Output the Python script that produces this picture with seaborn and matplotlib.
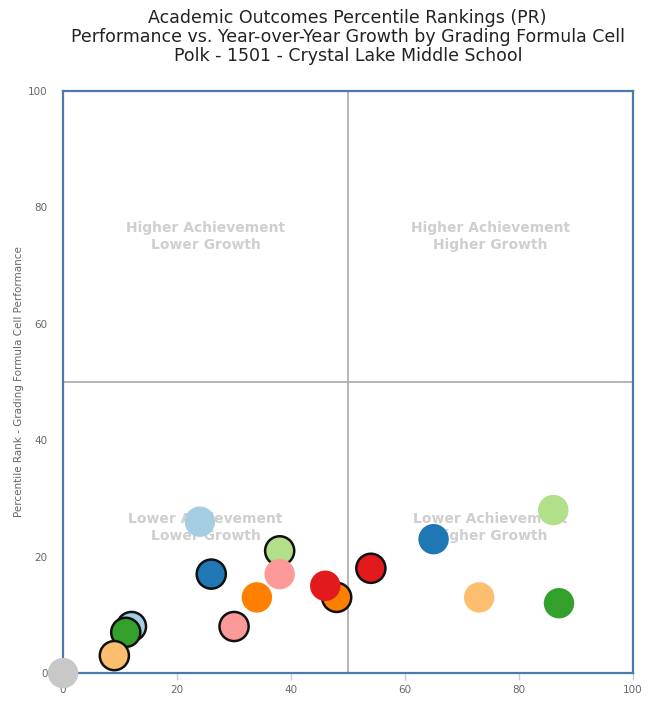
import pandas as pd
import matplotlib
matplotlib.use('Agg')
import matplotlib.pyplot as plt
import seaborn as sns

# cells: growth PR (x), performance PR (y), colour, outlined or not
growth = [0, 12, 11, 9, 26, 30, 38, 48, 54, 24, 34, 38, 46, 65, 73, 86, 87]
performance = [0, 8, 7, 3, 17, 8, 21, 13, 18, 26, 13, 17, 15, 23, 13, 28, 12]
colors = ['#c8c8c8', '#a6cee3', '#33a02c', '#fdbf6f', '#1f78b4', '#fb9a99', '#b2df8a',
          '#ff7f00', '#e31a1c', '#a6cee3', '#ff7f00', '#fb9a99', '#e31a1c', '#1f78b4',
          '#fdbf6f', '#b2df8a', '#33a02c']
outlined = [False, True, True, True, True, True, True, True, True,
            False, False, False, False, False, False, False, False]

df = pd.DataFrame({'growth': growth, 'performance': performance,
                   'color': colors, 'outlined': outlined})
df['id'] = range(len(df))

sns.set_style("white")
fig = plt.figure(figsize=(6.5, 7.1), dpi=100)
ax = fig.add_axes([0.097, 0.052, 0.877, 0.82])

# quadrant dividers
ax.axvline(50, color='#b0b0b0', lw=1.3, zorder=1)
ax.axhline(50, color='#b0b0b0', lw=1.3, zorder=1)

quad = [(25, 75, 'Higher Achievement\nLower Growth'),
        (75, 75, 'Higher Achievement\nHigher Growth'),
        (25, 25, 'Lower Achievement\nLower Growth'),
        (75, 25, 'Lower Achievement\nHigher Growth')]
for qx, qy, txt in quad:
    ax.text(qx, qy, txt, ha='center', va='center', fontsize=10, fontweight='bold',
            color='#cfcfcf', linespacing=1.25, zorder=2)

# outlined cells first, plain cells on top
edged = df[df['outlined']]
plain = df[~df['outlined']]
sns.scatterplot(data=edged, x='growth', y='performance', hue='id',
                palette=dict(zip(edged['id'], edged['color'])), s=440,
                edgecolor='#111111', linewidth=1.8, legend=False, ax=ax,
                zorder=3, clip_on=False, alpha=1)
sns.scatterplot(data=plain, x='growth', y='performance', hue='id',
                palette=dict(zip(plain['id'], plain['color'])), s=480,
                edgecolor='none', linewidth=0, legend=False, ax=ax,
                zorder=4, clip_on=False, alpha=1)

ax.set_xlim(0, 100)
ax.set_ylim(0, 100)
ax.set_xticks(range(0, 101, 20))
ax.set_yticks(range(0, 101, 20))
ax.tick_params(axis='x', colors='#c0d0e0', labelcolor='#666666', length=5, width=1,
               labelsize=7.5, direction='out', bottom=True)
ax.tick_params(axis='y', length=0, labelcolor='#666666', labelsize=7.5, pad=11)
ax.set_xlabel('')
ax.set_ylabel('Percentile Rank - Grading Formula Cell Performance', fontsize=7.5,
              color='#666666', labelpad=3)
for sp in ax.spines.values():
    sp.set_color('#4a7aab')
    sp.set_linewidth(1.6)
    sp.set_zorder(2.5)

fig.text(0.535, 0.988, 'Academic Outcomes Percentile Rankings (PR)\n'
         'Performance vs. Year-over-Year Growth by Grading Formula Cell\n'
         'Polk - 1501 - Crystal Lake Middle School',
         ha='center', va='top', fontsize=12.5, color='#222222', linespacing=1.08)

fig.savefig('out.png', dpi=100)
